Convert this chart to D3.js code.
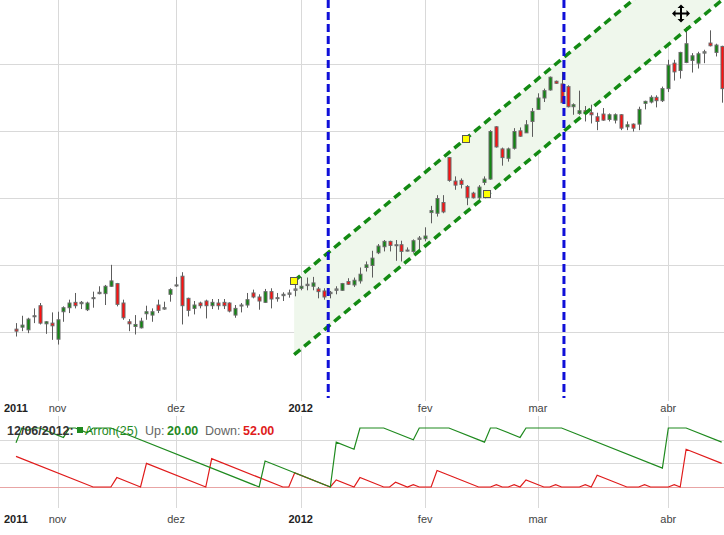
<!DOCTYPE html>
<html>
<head>
<meta charset="utf-8">
<script src="https://cdn.jsdelivr.net/npm/d3@7"></script>
<style>
  body { margin: 0; background: #fff; }
  svg { display: block; font-family: Arial, "Liberation Sans", Helvetica, sans-serif; }
</style>
</head>
<body>
<div id="chart"></div>
<script>
// daily candles, one per trading day (index 0 = first visible day)
const opens = [14.05,14.08,14.04,14.24,14.40,14.13,14.14,13.90,14.31,14.37,14.45,14.43,14.34,14.51,14.58,14.58,14.69,14.73,14.44,14.16,
  14.09,14.07,14.28,14.26,14.41,14.35,14.57,14.70,14.84,14.51,14.36,14.44,14.47,14.40,14.44,14.45,14.44,14.26,14.40,14.41,
  14.59,14.53,14.45,14.61,14.51,14.55,14.57,14.63,14.66,14.70,14.69,14.65,14.62,14.60,14.63,14.63,14.76,14.71,14.77,14.97,
  15.00,15.19,15.28,15.36,15.30,15.31,15.22,15.21,15.39,15.40,15.79,15.78,15.94,16.61,16.26,16.27,16.18,16.08,16.01,16.24,
  16.29,17.07,16.74,16.60,16.75,17.01,16.98,17.15,17.33,17.50,17.62,17.75,17.71,17.67,17.37,17.27,17.31,17.28,17.22,17.26,
  17.18,17.17,17.25,17.07,17.11,17.11,17.42,17.44,17.51,17.46,17.64,18.02,17.91,18.03,18.06,18.02,18.17,18.32,18.18,18.27]
const highs = [14.14,14.25,14.22,14.36,14.44,14.17,14.30,14.31,14.39,14.49,14.59,14.47,14.46,14.61,14.69,14.71,15.01,14.74,14.49,14.20,
  14.26,14.22,14.40,14.36,14.49,14.46,14.66,14.83,14.90,14.52,14.47,14.46,14.49,14.50,14.50,14.50,14.45,14.41,14.44,14.59,
  14.64,14.57,14.65,14.66,14.59,14.60,14.64,14.72,14.83,14.82,14.83,14.68,14.66,14.62,14.69,14.74,14.81,14.82,14.97,15.06,
  15.22,15.32,15.38,15.37,15.38,15.37,15.27,15.39,15.44,15.57,15.89,16.05,16.05,16.62,16.33,16.30,16.20,16.10,16.20,16.33,
  17.02,17.08,16.76,16.76,17.05,17.06,17.17,17.35,17.57,17.64,17.82,17.76,17.89,17.69,17.42,17.61,17.38,17.40,17.28,17.35,
  17.27,17.27,17.26,17.15,17.12,17.37,17.46,17.54,17.54,17.67,18.07,18.07,18.19,18.56,18.17,18.19,18.22,18.51,18.31,18.28]
const lows = [13.94,14.02,13.99,14.14,14.12,13.98,13.89,13.82,14.16,14.29,14.36,14.35,14.32,14.37,14.57,14.41,14.68,14.39,14.19,14.02,
  13.97,14.06,14.19,14.16,14.29,14.34,14.46,14.68,14.12,14.24,14.27,14.36,14.21,14.35,14.34,14.35,14.30,14.22,14.30,14.37,
  14.51,14.34,14.44,14.36,14.46,14.47,14.52,14.54,14.63,14.63,14.63,14.51,14.49,14.51,14.57,14.62,14.71,14.68,14.73,14.91,
  14.82,15.17,15.21,15.21,15.07,15.06,15.21,15.19,15.23,15.36,15.63,15.73,15.78,16.25,16.13,16.15,15.90,16.00,15.98,16.20,
  16.28,16.76,16.49,16.55,16.73,16.92,16.98,16.92,17.32,17.44,17.61,17.71,17.42,17.36,17.25,17.25,17.15,17.12,17.02,17.16,
  17.15,17.12,17.02,17.02,17.00,17.02,17.33,17.42,17.36,17.44,17.59,17.76,17.79,18.02,17.88,17.94,18.02,18.27,18.12,17.43]
const closes = [14.02,14.11,14.20,14.25,14.14,14.16,14.10,14.19,14.37,14.44,14.40,14.45,14.44,14.52,14.60,14.69,14.77,14.42,14.22,14.13,
  14.12,14.17,14.31,14.31,14.33,14.37,14.64,14.71,14.40,14.33,14.41,14.40,14.40,14.45,14.40,14.40,14.32,14.36,14.41,14.49,
  14.53,14.47,14.61,14.50,14.52,14.57,14.59,14.65,14.69,14.72,14.74,14.61,14.53,14.58,14.65,14.73,14.72,14.78,14.87,15.01,
  15.11,15.29,15.36,15.30,15.31,15.21,15.23,15.37,15.41,15.44,15.82,16.00,15.80,16.27,16.20,16.21,16.01,16.01,16.17,16.29,
  17.00,16.77,16.61,16.74,17.00,16.93,17.10,17.30,17.50,17.61,17.81,17.72,17.43,17.37,17.40,17.31,17.27,17.25,17.15,17.17,
  17.25,17.25,17.05,17.10,17.05,17.33,17.45,17.51,17.46,17.64,17.99,17.89,18.18,18.31,18.13,18.16,18.19,18.28,18.29,17.64]

// axis ticks (trading day index of the first day of each month)
const tickIdx = [0, 7, 27, 48, 69, 88, 110]
const tickLabels = ['2011', 'nov', 'dez', '2012', 'fev', 'mar', 'abr']
const priceGrid = [14, 15, 16, 17, 18]
const aroonGrid = [40, 80]

// Aroon(25) turning points [day index, value]
const aroonUp = [[0,75],[1,100],[2,96],[3,100],[4,100],[5,96],[6,92],[7,88],[8,84],[9,100],[10,100],[11,96],[12,92],[13,100],
  [16,100],[41,0],[42,44],[53,0],[54,76],[57,64],[58,100],[62,100],[67,80],[68,100],[73,100],[79,76],[80,100],[81,100],
  [85,84],[86,100],[92,100],[109,32],[110,100],[113,100],[119,76]]
const aroonDown = [[0,52],[13,0],[16,0],[17,16],[21,0],[22,40],[32,0],[33,48],[45,0],[46,0],[47,24],[53,0],[54,12],[57,0],
  [58,16],[62,0],[63,0],[64,8],[66,0],[67,4],[68,0],[70,0],[71,28],[78,0],[80,0],[81,4],[82,0],[83,0],[84,4],[85,0],
  [86,12],[89,0],[90,0],[91,4],[92,0],[95,0],[96,4],[97,0],[98,20],[103,0],[105,0],[106,4],[107,0],[110,0],[111,4],
  [112,0],[113,64],[119,40]]

// drawing annotations: channel anchors [day index, price] and vertical markers
const channelPts = [[46.9, 14.77], [75.8, 16.89], [79.5, 16.06]]
const markerIdx = [52.65, 92.4]
const legendDate = '12/06/2012'
const legendUp = 20, legendDown = 52

const svgWidth = 724, svgHeight = 535
const green = '#1f8a1f', red = '#e01b1b'

const svg = d3.select('#chart').append('svg')
    .attr('width', svgWidth)
    .attr('height', svgHeight)

const x = d3.scaleLinear().domain([0, 119]).range([16, 721.7])
const y = d3.scaleLinear().domain([14, 18]).range([332.5, 64.5])
const yA = d3.scaleLinear().domain([0, 100]).range([487, 428])

const crisp = v => Math.round(v) + 0.5

svg.append('clipPath').attr('id', 'mainClip')
  .append('rect').attr('x', 0).attr('y', 0).attr('width', svgWidth).attr('height', 400)

// grid
let grid = svg.append('g').attr('stroke', '#d9d9d9').attr('stroke-width', 1)
grid.selectAll('.hgrid').data(priceGrid).enter().append('line')
    .attr('x1', 0).attr('x2', svgWidth)
    .attr('y1', d => crisp(y(d) - 0.5)).attr('y2', d => crisp(y(d) - 0.5))
grid.selectAll('.agrid').data(aroonGrid).enter().append('line')
    .attr('x1', 0).attr('x2', svgWidth)
    .attr('y1', d => crisp(yA(d))).attr('y2', d => crisp(yA(d)))
let vTicks = tickIdx.filter(d => d > 0)
grid.selectAll('.vgrid').data(vTicks).enter().append('line')
    .attr('x1', d => crisp(x(d))).attr('x2', d => crisp(x(d)))
    .attr('y1', 0).attr('y2', 401)
grid.selectAll('.vgrid2').data(vTicks).enter().append('line')
    .attr('x1', d => crisp(x(d))).attr('x2', d => crisp(x(d)))
    .attr('y1', 416).attr('y2', 508)
svg.append('line')
    .attr('x1', 0).attr('x2', svgWidth)
    .attr('y1', crisp(yA(0))).attr('y2', crisp(yA(0)))
    .attr('stroke', '#e8a4a4').attr('stroke-width', 1)

// channel
let main = svg.append('g').attr('clip-path', 'url(#mainClip)')
const slope = (channelPts[1][1] - channelPts[0][1]) / (channelPts[1][0] - channelPts[0][0])
const i0 = channelPts[0][0], i1 = 125
const upperAt = t => channelPts[0][1] + slope * (t - channelPts[0][0])
const lowerAt = t => channelPts[2][1] + slope * (t - channelPts[2][0])
main.append('path')
    .attr('d', d3.line()([[x(i0), y(upperAt(i0))], [x(i1), y(upperAt(i1))], [x(i1), y(lowerAt(i1))], [x(i0), y(lowerAt(i0))]]) + 'Z')
    .attr('fill', '#eff7ec')

// candles
let candles = main.append('g')
let idx = d3.range(opens.length)
candles.selectAll('.wick').data(idx).enter().append('line')
    .attr('x1', i => crisp(x(i))).attr('x2', i => crisp(x(i)))
    .attr('y1', i => y(highs[i])).attr('y2', i => y(lows[i]))
    .attr('stroke', '#5c5c5c').attr('stroke-width', 1)
candles.selectAll('.body').data(idx).enter().append('rect')
    .attr('x', i => Math.round(x(i)) - 1)
    .attr('width', 3)
    .attr('y', i => y(Math.max(opens[i], closes[i])))
    .attr('height', i => Math.max(1, Math.abs(y(opens[i]) - y(closes[i]))))
    .attr('fill', i => Math.abs(closes[i] - opens[i]) < 0.025 ? '#8a9a8a' : (closes[i] > opens[i] ? '#118811' : '#ff1111'))
    .attr('stroke', '#6b6b6b').attr('stroke-width', 1)

// channel borders
let chLines = [[[x(i0), y(upperAt(i0))], [x(i1), y(upperAt(i1))]], [[x(i0), y(lowerAt(i0))], [x(i1), y(lowerAt(i1))]]]
main.selectAll('.chline').data(chLines).enter().append('path')
    .attr('d', d => d3.line()(d))
    .attr('fill', 'none').attr('stroke', '#138a13').attr('stroke-width', 3.5)
    .attr('stroke-dasharray', '8,5')

// vertical markers
svg.selectAll('.marker').data(markerIdx).enter().append('line')
    .attr('x1', d => x(d)).attr('x2', d => x(d))
    .attr('y1', 0).attr('y2', 398)
    .attr('stroke', '#1010d8').attr('stroke-width', 3)
    .attr('stroke-dasharray', '8,4')

// anchor squares
svg.selectAll('.anchor').data(channelPts).enter().append('rect')
    .attr('x', d => Math.round(x(d[0])) - 3.5).attr('y', d => Math.round(y(d[1])) - 3.5)
    .attr('width', 7).attr('height', 7)
    .attr('fill', '#ffff00').attr('stroke', '#555').attr('stroke-width', 1)

// time axis labels, under both panels
;[411.5, 522.5].forEach(ty => {
  svg.append('g').selectAll('text').data(tickIdx).enter().append('text')
    .attr('x', d => d === 0 ? 4 : x(d))
    .attr('y', ty)
    .attr('text-anchor', d => d === 0 ? 'start' : 'middle')
    .attr('font-size', 11)
    .attr('font-weight', (d, i) => /^\d{4}$/.test(tickLabels[i]) ? 'bold' : 'normal')
    .attr('fill', (d, i) => /^\d{4}$/.test(tickLabels[i]) ? '#222' : '#444')
    .text((d, i) => tickLabels[i])
})

// Aroon lines
let aLine = d3.line().x(d => x(d[0])).y(d => yA(d[1]))
svg.append('path').attr('d', aLine(aroonDown))
    .attr('fill', 'none').attr('stroke', red).attr('stroke-width', 1.2)
svg.append('path').attr('d', aLine(aroonUp))
    .attr('fill', 'none').attr('stroke', green).attr('stroke-width', 1.2)

// legend
let legend = svg.append('g').attr('font-size', 12.5)
legend.append('text').attr('x', 7).attr('y', 434.5).attr('font-weight', 'bold').attr('fill', '#333').text(legendDate + ':')
legend.append('rect').attr('x', 77).attr('y', 427).attr('width', 6).attr('height', 6).attr('fill', green)
legend.append('text').attr('x', 85).attr('y', 434.5).attr('fill', green).text('Arron(25)')
legend.append('text').attr('x', 145).attr('y', 434.5).attr('fill', '#666').text('Up:')
legend.append('text').attr('x', 167).attr('y', 434.5).attr('fill', green).attr('font-weight', 'bold').text(legendUp.toFixed(2))
legend.append('text').attr('x', 205).attr('y', 434.5).attr('fill', '#666').text('Down:')
legend.append('text').attr('x', 243).attr('y', 434.5).attr('fill', red).attr('font-weight', 'bold').text(legendDown.toFixed(2))

// move cursor
let cur = svg.append('g').attr('transform', 'translate(681,13.5)')
cur.append('path')
    .attr('d', 'M-7,0H7M0,-7V7')
    .attr('stroke', '#000').attr('stroke-width', 2)
cur.append('path')
    .attr('d', 'M0,-9L-3.5,-5.5H3.5Z M0,9L-3.5,5.5H3.5Z M-9,0L-5.5,-3.5V3.5Z M9,0L5.5,-3.5V3.5Z')
    .attr('fill', '#000')
</script>
</body>
</html>
